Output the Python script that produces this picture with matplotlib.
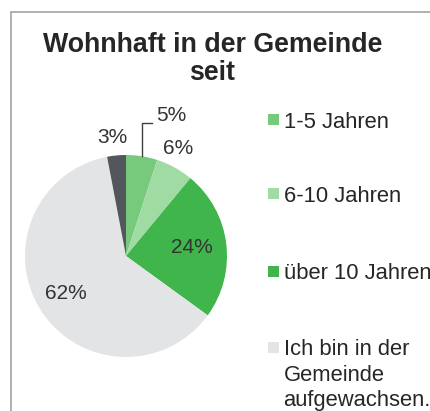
import numpy as np
import matplotlib.pyplot as plt
from matplotlib.patches import Rectangle

plt.rcParams['font.family'] = ['Liberation Sans', 'DejaVu Sans']

# data
categories = ['1-5 Jahren', '6-10 Jahren', 'über 10 Jahren',
              'Ich bin in der\nGemeinde\naufgewachsen.', 'keine Angabe']
values = [5, 6, 24, 62, 3]
colors = ['#77c97c', '#a0dba3', '#3fb54b', '#e3e4e6', '#53565b']
label_dist = [1.46, 1.18, 0.66, 0.70, 1.18]
label_ang_shift = [-9, 3, 0, 0, 1.4]

W, H = 430, 411
fig = plt.figure(figsize=(W / 100, H / 100), dpi=100)

def fx(x):
    return x / W

def fy(y):
    return 1 - y / H

# outer frame (cropped chart area)
fig.patches.append(Rectangle((fx(10.5), fy(500)), fx(600), fy(12.5) - fy(500),
                             transform=fig.transFigure, fill=False,
                             edgecolor='#a3a3a3', linewidth=1.2))

fig.text(fx(212.5), fy(59), 'Wohnhaft in der Gemeinde\nseit', ha='center', va='center',
         fontsize=19.3, fontweight='bold', color='#262626', linespacing=1.1)

# pie
cx, cy, r = 126, 256, 101
ax = fig.add_axes([fx(cx - r), fy(cy + r), 2 * r / W, 2 * r / H])
wedges, _ = ax.pie(values, colors=colors, startangle=90, counterclock=False,
                   radius=1, wedgeprops=dict(linewidth=0))
ax.set_xlim(-1, 1)
ax.set_ylim(-1, 1)
ax.axis('off')

for w, v, d, s in zip(wedges, values, label_dist, label_ang_shift):
    mid = np.deg2rad((w.theta1 + w.theta2) / 2)
    ang = mid + np.deg2rad(s)
    tx, ty = d * np.cos(ang), d * np.sin(ang)
    ax.text(tx, ty, f'{v}%', ha='center', va='center', fontsize=15,
            color='#333333', clip_on=False)
    if d > 1.3:
        ex, ey = np.cos(mid), np.sin(mid)
        ax.plot([ex, ex, tx - 0.19], [ey, ty - 0.07, ty - 0.07],
                color='#404040', linewidth=1, clip_on=False)

# legend
leg_y = [120, 194, 271, 347]
for cat, col, ly in zip(categories[:4], colors[:4], leg_y):
    fig.patches.append(Rectangle((fx(267.5), fy(ly + 5.5)), 11 / W, 11 / H,
                                 transform=fig.transFigure, facecolor=col,
                                 edgecolor='none'))
    fig.text(fx(283.5), fy(ly) + 0.5 * 22 / H * 0.72, cat, ha='left', va='top',
             fontsize=15.8, color='#262626', linespacing=1.29)

fig.savefig('out.png', dpi=100)
